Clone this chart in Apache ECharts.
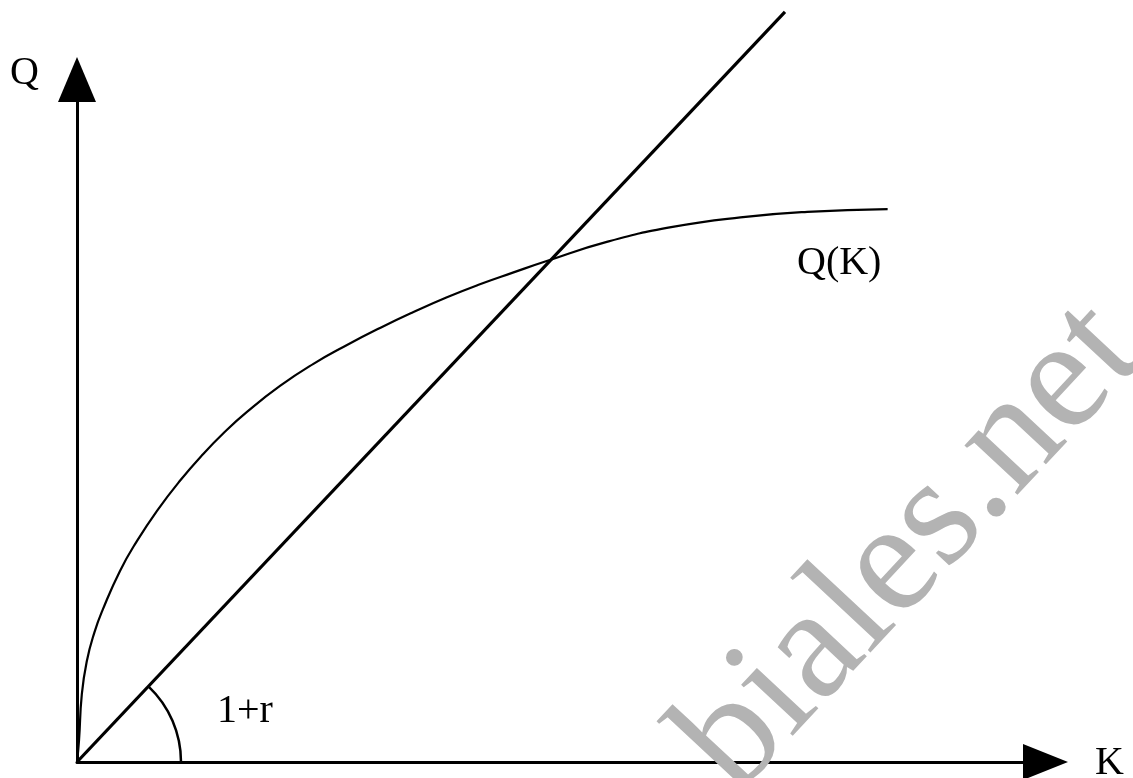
<!DOCTYPE html>
<html>
<head>
<meta charset="utf-8">
<style>html,body{margin:0;padding:0;background:#fff;}#c{width:1133px;height:778px;}</style>
<script src="https://cdn.jsdelivr.net/npm/echarts@6/dist/echarts.min.js"></script>
</head>
<body>
<div id="c"></div>
<script>
// Production function Q(K): capital K vs output Q
const curveK = [0, 0.21, 0.49, 1.0, 1.8, 2.68, 4.44, 6.2, 8.26, 10.63, 13.01, 15.28, 17.55, 20.96, 24.37, 27.88, 31.29, 34.69, 38.2, 41.6, 45.0, 48.5, 54.7, 61.5, 68.5, 75.4, 83.7];
const curveQ = [0, 3.2, 9.8, 14.7, 19.0, 22.4, 28.0, 32.4, 36.8, 41.2, 45.1, 48.4, 51.3, 55.1, 58.3, 61.1, 63.6, 65.9, 68.1, 70.0, 71.7, 73.4, 76.2, 78.4, 79.8, 80.6, 81.0];
// Straight line with slope (1+r)
const lineK = [0, 73.1];
const lineQ = [0, 109.9];
const axisMax = 100;

const chart = echarts.init(document.getElementById('c'), null, {renderer: 'canvas'});
const serif = '"Liberation Serif", "DejaVu Serif", serif';

const option = {
  backgroundColor: '#ffffff',
  animation: false,
  grid: {left: 77, right: 87.5, top: 79.5, bottom: 16, containLabel: false},
  xAxis: {
    type: 'value', min: 0, max: axisMax,
    axisLine: {show: true, onZero: true, symbol: ['none', 'triangle'], symbolSize: [36, 45],
      lineStyle: {color: '#000', width: 3}},
    axisTick: {show: false}, axisLabel: {show: false}, splitLine: {show: false}
  },
  yAxis: {
    type: 'value', min: 0, max: axisMax,
    axisLine: {show: true, onZero: true, symbol: ['none', 'triangle'], symbolSize: [38, 45],
      lineStyle: {color: '#000', width: 3}},
    axisTick: {show: false}, axisLabel: {show: false}, splitLine: {show: false}
  },
  series: [
    {
      type: 'line', name: 'Q(K)', clip: false, showSymbol: false, smooth: 0.5,
      lineStyle: {color: '#000', width: 2.2},
      data: curveK.map((k, i) => [k, curveQ[i]])
    },
    {
      type: 'line', name: '1+r', clip: false, showSymbol: false,
      lineStyle: {color: '#000', width: 3.2},
      data: lineK.map((k, i) => [k, lineQ[i]])
    }
  ]
};
chart.setOption(option);

const o = chart.convertToPixel({gridIndex: 0}, [0, 0]);
const e = chart.convertToPixel({gridIndex: 0}, [lineK[1], lineQ[1]]);
const ang = Math.atan2(e[1] - o[1], e[0] - o[0]);

// text placed by baseline: graphic text is top-aligned, baseline ~0.8em below top
function label(txt, x, baseline, size) {
  return {type: 'text', x: x, y: baseline - 0.8 * size, z: 10,
    style: {text: txt, font: size + 'px ' + serif, fill: '#000'}};
}
const wmRot = 47 * Math.PI / 180, wmSize = 158;
const wmBase = [741, 800];
const wmOff = 0.8 * wmSize;

chart.setOption({
  graphic: [
    {
      type: 'text', x: wmBase[0] - wmOff * Math.sin(wmRot), y: wmBase[1] - wmOff * Math.cos(wmRot),
      rotation: wmRot, z: 1,
      style: {text: 'biales.net', font: wmSize + 'px ' + serif, fill: '#b3b3b3'}
    },
    {
      type: 'arc', z: 10,
      shape: {cx: o[0], cy: o[1], r: 104, startAngle: ang, endAngle: 0, clockwise: true},
      style: {stroke: '#000', lineWidth: 2.5, fill: null}
    },
    label('Q', 10, 85, 40),
    label('K', 1095, 775, 40),
    label('Q(K)', 797, 275, 40),
    label('1+r', 217, 723, 40)
  ]
});
</script>
</body>
</html>
